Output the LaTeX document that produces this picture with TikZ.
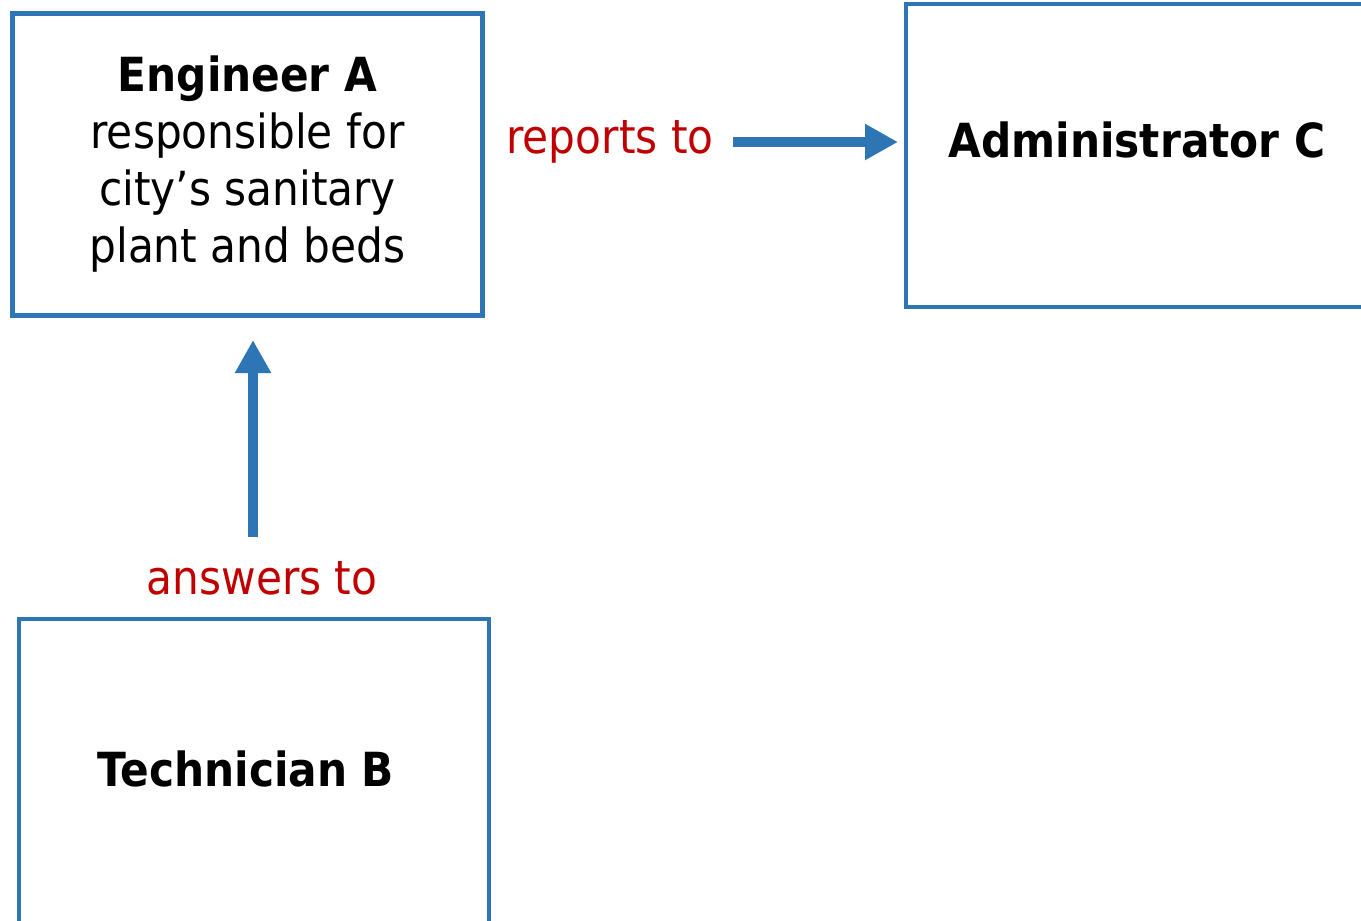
\documentclass[tikz,border=0pt]{standalone}
\usepackage{fontspec}
\setmainfont{DejaVu Sans Condensed}
\usetikzlibrary{arrows.meta}
\definecolor{boxblue}{HTML}{2E75B6}
\definecolor{relred}{HTML}{C00000}
\begin{document}
\begin{tikzpicture}[x=1pt,y=-1pt,
  box/.style={draw=boxblue, line width=4.2pt, rectangle, inner sep=0pt, outer sep=0pt},
  bodytext/.style={font=\fontsize{47}{57}\selectfont, text=black},
  titletext/.style={font=\fontsize{47}{57}\selectfont\bfseries, text=black, inner sep=0pt},
  rel/.style={text=relred, font=\fontsize{47}{57}\selectfont, inner sep=0pt},
  conn/.style={draw=boxblue, line width=10pt, -{Triangle[length=33pt,width=34pt]}}]
\useasboundingbox (0,0) rectangle (1361,921);
\clip (0,0) rectangle (1361,921);

% boxes
\node[box, bodytext, align=center, minimum width=470pt, minimum height=302pt, anchor=north west]
  (eng) at (12.5,13.5) {\textbf{Engineer A}\\responsible for\\city’s sanitary\\plant and beds};
\node[box, minimum width=480pt, minimum height=303pt, anchor=north west] (adm) at (906,4) {};
\node[box, minimum width=470pt, minimum height=305pt, anchor=north west] (tech) at (19,619) {};

% box titles
\node[titletext, anchor=base] (admtitle) at (1137,157) {Administrator C};
\node[titletext, anchor=base] (techtitle) at (246,786) {Technician B};

% relation labels
\node[rel] (rep) at (610,142) {reports to};
\node[rel] (ans) at (262,578) {answers to};

% connectors
\coordinate (vx) at (253,0);
\draw[conn, shorten <=19pt, shorten >=8pt] (rep.east) -- (rep.east -| adm.west);
\draw[conn, shorten <=24pt, shorten >=24.5pt] (ans.north -| vx) -- (eng.south -| vx);
\end{tikzpicture}
\end{document}
